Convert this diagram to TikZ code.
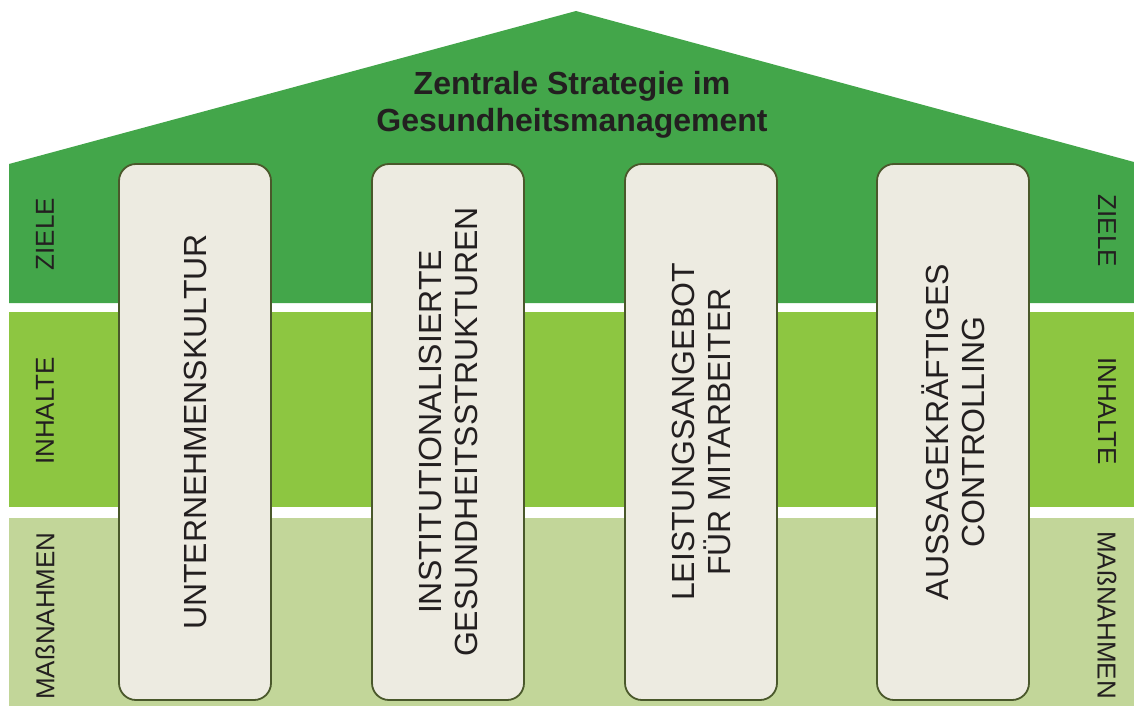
\documentclass[tikz,border=0pt]{standalone}
\usepackage{fontspec}
\setmainfont{Liberation Sans}
\definecolor{darkgr}{HTML}{43A64A}
\definecolor{midgr}{HTML}{8DC641}
\definecolor{palegr}{HTML}{C2D699}
\definecolor{pillarfill}{HTML}{EDEBE1}
\definecolor{pillarline}{HTML}{4A582B}
\definecolor{txt}{HTML}{231F20}
\tikzset{
  pillar/.style={draw=pillarline, line width=1.8pt, fill=pillarfill, rounded corners=17pt,
    rotate=90, minimum width=536pt, minimum height=152pt, inner sep=0pt, align=center,
    text=txt, font=\fontsize{32}{36}\selectfont},
  sidel/.style={rotate=90, text=txt, inner sep=0pt, font=\fontsize{26}{30}\selectfont},
  sider/.style={rotate=-90, text=txt, inner sep=0pt, font=\fontsize{26}{30}\selectfont},
  title/.style={align=center, text=txt, inner sep=0pt, font=\bfseries\fontsize{32}{37}\selectfont}
}
\begin{document}
\begin{tikzpicture}[x=1pt,y=-1pt]
\useasboundingbox (0,0) rectangle (1134,706);
% bands
\fill[darkgr] (9,303) -- (9,164) -- (576,11) -- (1134,162) -- (1134,303) -- cycle;
\fill[midgr] (9,312) rectangle (1134,507);
\fill[palegr] (9,518) rectangle (1134,706);
% title
\node[title] (t) at (572,105) {Zentrale Strategie im\\Gesundheitsmanagement};
% side labels
\node[sidel] (lz) at (45,234) {ZIELE};
\node[sidel] (li) at (45,411) {INHALTE};
\node[sidel] (lm) at (45,616) {MAßNAHMEN};
\node[sider] (rz) at (1107,231) {ZIELE};
\node[sider] (ri) at (1107,411) {INHALTE};
\node[sider] (rm) at (1107,615) {MAßNAHMEN};
% pillars
\node[pillar] (p1) at (195,432) {UNTERNEHMENSKULTUR};
\node[pillar] (p2) at (448,432) {INSTITUTIONALISIERTE\\GESUNDHEITSSTRUKTUREN};
\node[pillar] (p3) at (701,432) {LEISTUNGSANGEBOT\\FÜR MITARBEITER};
\node[pillar] (p4) at (953,432) {AUSSAGEKRÄFTIGES\\CONTROLLING};
\end{tikzpicture}
\end{document}
